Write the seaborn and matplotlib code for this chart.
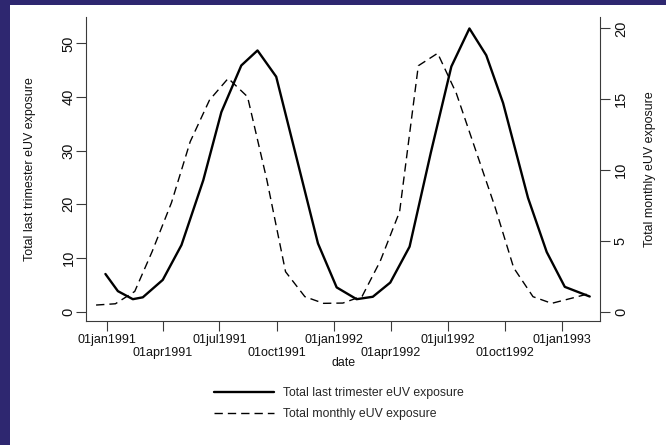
import numpy as np
import pandas as pd
import matplotlib
matplotlib.use("Agg")
import matplotlib.pyplot as plt
import matplotlib.dates as mdates
from matplotlib.ticker import FixedLocator, FixedFormatter
from matplotlib.patches import Rectangle
import seaborn as sns

# ---------------- data ----------------
trimester_dates = ["1990-12-30", "1991-01-19", "1991-02-12", "1991-02-28", "1991-04-01",
                   "1991-05-01", "1991-06-05", "1991-07-04", "1991-08-05", "1991-08-31",
                   "1991-09-30", "1991-11-02", "1991-12-06", "1992-01-05", "1992-02-06",
                   "1992-03-03", "1992-03-31", "1992-05-01", "1992-06-04", "1992-07-07",
                   "1992-08-05", "1992-09-01", "1992-09-28", "1992-11-07", "1992-12-07",
                   "1993-01-05", "1993-02-14"]
trimester_values = [7.0, 3.8, 2.3, 2.65, 5.9, 12.4, 24.5, 37.2, 45.9, 48.7,
                    43.8, 28.5, 12.7, 4.5, 2.3, 2.75, 5.4, 12.1, 29.6, 45.7,
                    52.8, 47.8, 38.9, 21.2, 11.1, 4.6, 2.8]

monthly_dates = ["1990-12-15", "1991-01-15", "1991-02-15", "1991-03-15", "1991-04-15",
                 "1991-05-15", "1991-06-15", "1991-07-15", "1991-08-15", "1991-09-15",
                 "1991-10-15", "1991-11-15", "1991-12-15", "1992-01-15", "1992-02-15",
                 "1992-03-15", "1992-04-15", "1992-05-15", "1992-06-15", "1992-07-15",
                 "1992-08-15", "1992-09-15", "1992-10-15", "1992-11-15", "1992-12-15",
                 "1993-01-15", "1993-02-15"]
monthly_values = [0.47, 0.56, 1.43, 4.25, 7.7, 12.0, 14.94, 16.47, 15.17, 9.3,
                  2.82, 1.06, 0.59, 0.61, 1.1, 3.58, 7.06, 17.36, 18.24, 15.41,
                  11.4, 7.4, 3.1, 1.06, 0.59, 0.94, 1.3]

major_tick_labels = ["01jan1991", "01jul1991", "01jan1992", "01jul1992", "01jan1993"]
minor_tick_labels = ["01apr1991", "01oct1991", "01apr1992", "01oct1992"]
left_ticks = [0, 10, 20, 30, 40, 50]
right_ticks = [0, 5, 10, 15, 20]

series_labels = ["Total last trimester eUV exposure", "Total monthly eUV exposure"]
left_ylabel = "Total last trimester eUV exposure"
right_ylabel = "Total monthly eUV exposure"
xlabel = "date"

# ---------------- style ----------------
sns.set_style("ticks")
plt.rcParams["font.family"] = ["Liberation Sans", "DejaVu Sans"]

W, H = 666, 445
fig = plt.figure(figsize=(W / 100, H / 100), dpi=100)
fig.patch.set_facecolor("#2e2770")
fig.add_artist(Rectangle((10 / W, 0), 1 - 10 / W, 1 - 5 / H, transform=fig.transFigure,
                         facecolor="white", edgecolor="none", zorder=-10))

ax = fig.add_axes([86 / W, 1 - 321 / H, 514 / W, 304 / H])
ax.set_facecolor("none")
ax2 = ax.twinx()

df_tri = pd.DataFrame({"date": pd.to_datetime(trimester_dates), "value": trimester_values})
df_mon = pd.DataFrame({"date": pd.to_datetime(monthly_dates), "value": monthly_values})

sns.lineplot(data=df_tri, x="date", y="value", ax=ax, color="black", linewidth=1.7,
             legend=False)
sns.lineplot(data=df_mon, x="date", y="value", ax=ax2, color="black", linewidth=1.0,
             legend=False)
line_tri = ax.lines[0]
line_mon = ax2.lines[0]
line_mon.set_dashes((6, 3.6))

ax.set_ylim(-1.77, 54.94)
ax2.set_ylim(-0.656, 20.8)
ax.set_xlim(pd.Timestamp("1990-11-28 20:00"), pd.Timestamp("1993-03-02 12:00"))

spine_col = "#3a3a3a"
for a in (ax, ax2):
    a.spines["top"].set_visible(False)
    for s in a.spines.values():
        s.set_color(spine_col)
        s.set_linewidth(0.8)
ax.spines["right"].set_visible(False)
ax2.spines["left"].set_visible(False)
ax2.spines["bottom"].set_visible(False)

# x ticks (staggered like Stata's alternate labels)
major_pos = mdates.date2num(pd.to_datetime(major_tick_labels, format="%d%b%Y"))
minor_pos = mdates.date2num(pd.to_datetime(minor_tick_labels, format="%d%b%Y"))
ax.xaxis.set_major_locator(FixedLocator(major_pos))
ax.xaxis.set_major_formatter(FixedFormatter(major_tick_labels))
ax.xaxis.set_minor_locator(FixedLocator(minor_pos))
ax.xaxis.set_minor_formatter(FixedFormatter(minor_tick_labels))
ax.tick_params(axis="x", which="major", length=7, width=0.8, color=spine_col,
               labelsize=9, pad=2.5, labelcolor="#111111")
ax.tick_params(axis="x", which="minor", length=7, width=0.8, color=spine_col,
               labelsize=9, pad=12.0, labelcolor="#111111")

# y ticks
ax.set_yticks(left_ticks)
ax2.set_yticks(right_ticks)
ax.tick_params(axis="y", length=7, width=0.8, color=spine_col, labelsize=10.5,
               pad=0.5, labelrotation=90, labelcolor="#111111")
ax2.tick_params(axis="y", length=7, width=0.8, color=spine_col, labelsize=10.5,
                pad=3, labelrotation=90, labelcolor="#111111")
for lab in ax.get_yticklabels() + ax2.get_yticklabels():
    lab.set_va("center")

ax.set_xlabel("")
ax.set_ylabel("")
ax2.set_ylabel("")

fig.text(30 / W, 1 - 169 / H, left_ylabel, rotation=90, ha="center", va="center",
         fontsize=8.9, color="#111111")
fig.text(650 / W, 1 - 169 / H, right_ylabel, rotation=90, ha="center", va="center",
         fontsize=8.9, color="#111111")
fig.text(344 / W, 1 - 363 / H, xlabel, ha="center", va="center", fontsize=8.9,
         color="#111111")

fig.legend([line_tri, line_mon], series_labels, loc="center",
           bbox_to_anchor=(339 / W, 1 - 403.4 / H), frameon=False, fontsize=8.8,
           handlelength=4.9, handletextpad=0.8, labelspacing=0.75, borderpad=0.2)

fig.savefig("out.png", dpi=100, facecolor=fig.get_facecolor())
